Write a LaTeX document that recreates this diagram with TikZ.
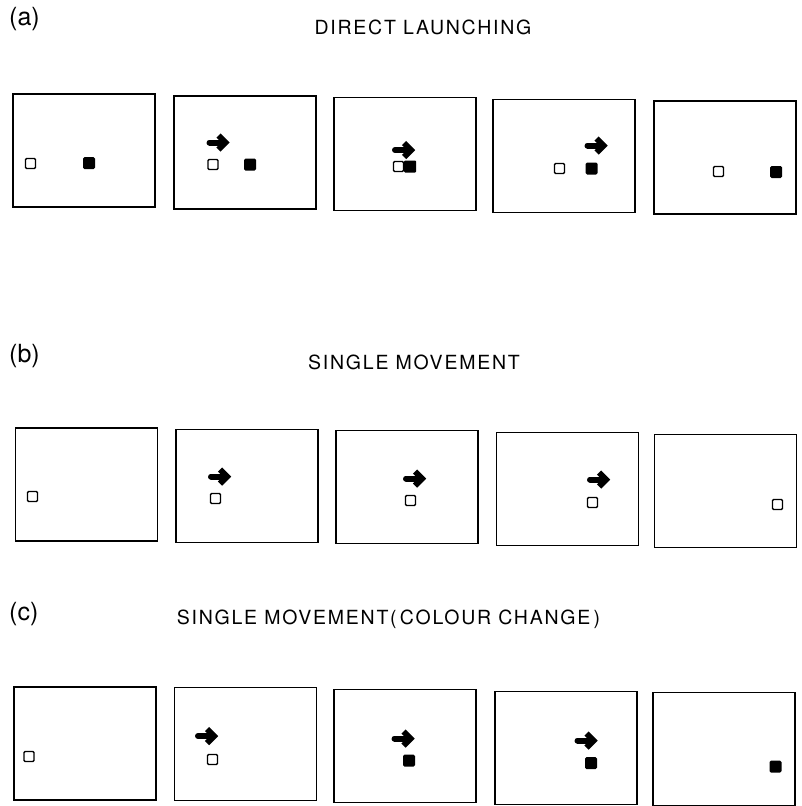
\documentclass[tikz,border=0pt]{standalone}
\usepackage{fontspec}
\setmainfont{TeX Gyre Heros}
\newfontfamily\titlefont[LetterSpace=9]{TeX Gyre Heros}
\begin{document}
\begin{tikzpicture}[x=1pt,y=-1pt,
  screen/.style={draw, line width=1.9pt, inner sep=0pt, minimum width=142pt, minimum height=113pt},
  whitesq/.style={draw, fill=white, line width=1.4pt, rounded corners=1.2pt, inner sep=0pt, minimum size=10pt},
  blacksq/.style={fill=black, rounded corners=1.5pt, inner sep=0pt, minimum size=12pt},
  partlabel/.style={font=\fontsize{25}{27}\selectfont, inner sep=0pt, anchor=west},
  heading/.style={font=\titlefont\fontsize{19.5}{21}\selectfont, inner sep=0pt},
  mvarrow/.pic={
    \draw[line width=6pt, line cap=round] (-9,0) -- (6,0);
    \draw[line width=6pt, line join=miter] (0,-7) -- (7,0) -- (0,7);
  }]
\useasboundingbox (0,0) rectangle (801,806);

% ---------- (a) direct launching ----------
\node[partlabel] (la) at (9,19.5) {(a)};
\node[heading] (ta) at (423,27) {DIRECT LAUNCHING};

\node[screen] (a1) at (84,150.5) {};
\node[screen] (a2) at (245,152.5) {};
\node[screen] (a3) at (405,154) {};
\node[screen] (a4) at (564,156) {};
\node[screen] (a5) at (725,157.5) {};

\node[whitesq] (a1w) at (30.5,163.5) {};
\node[blacksq] (a1b) at (89,163) {};

\pic at (218.5,142.5) {mvarrow};
\node[whitesq] (a2w) at (213,164.5) {};
\node[blacksq] (a2b) at (250,164.5) {};

\pic at (404,150) {mvarrow};
\node[blacksq, minimum width=12pt, rounded corners=1pt] (a3b) at (410,166.5) {};
\node[whitesq, minimum width=10pt] (a3w) at (398.5,166.5) {};

\pic at (596.5,145.5) {mvarrow};
\node[whitesq] (a4w) at (559.5,168.5) {};
\node[blacksq] (a4b) at (591.5,168.5) {};

\node[whitesq] (a5w) at (718.5,171.5) {};
\node[blacksq] (a5b) at (776,172) {};

% ---------- (b) single movement ----------
\node[partlabel] (lb) at (9,356) {(b)};
\node[heading] (tb) at (414,362) {SINGLE MOVEMENT};

\node[screen] (b1) at (86.5,484.5) {};
\node[screen] (b2) at (247,486) {};
\node[screen] (b3) at (407,487) {};
\node[screen] (b4) at (567.5,489) {};
\node[screen] (b5) at (725.5,491) {};

\node[whitesq] (b1w) at (32.5,496.5) {};
\pic at (220,476.5) {mvarrow};
\node[whitesq] (b2w) at (215.5,498.5) {};
\pic at (415,478.5) {mvarrow};
\node[whitesq] (b3w) at (410.5,500.5) {};
\pic at (599,479.5) {mvarrow};
\node[whitesq] (b4w) at (592.5,502.5) {};
\node[whitesq] (b5w) at (777.5,504.5) {};

% ---------- (c) single movement with colour change ----------
\node[partlabel] (lc) at (9,614) {(c)};
\node[heading] (tc) at (388.5,619) {SINGLE MOVEMENT(\,COLOUR CHANGE\,)};

\node[screen] (c1) at (85,743.5) {};
\node[screen] (c2) at (245.5,744) {};
\node[screen] (c3) at (405,746) {};
\node[screen] (c4) at (566,748) {};
\node[screen] (c5) at (724,749) {};

\node[whitesq] (c1w) at (29,756.5) {};
\pic at (207,736) {mvarrow};
\node[whitesq] (c2w) at (212.5,759.5) {};
\pic at (403.5,738.5) {mvarrow};
\node[blacksq] (c3b) at (409,760.5) {};
\pic at (586.5,740.5) {mvarrow};
\node[blacksq] (c4b) at (591,763) {};
\node[blacksq] (c5b) at (775.5,766.5) {};
\end{tikzpicture}
\end{document}
